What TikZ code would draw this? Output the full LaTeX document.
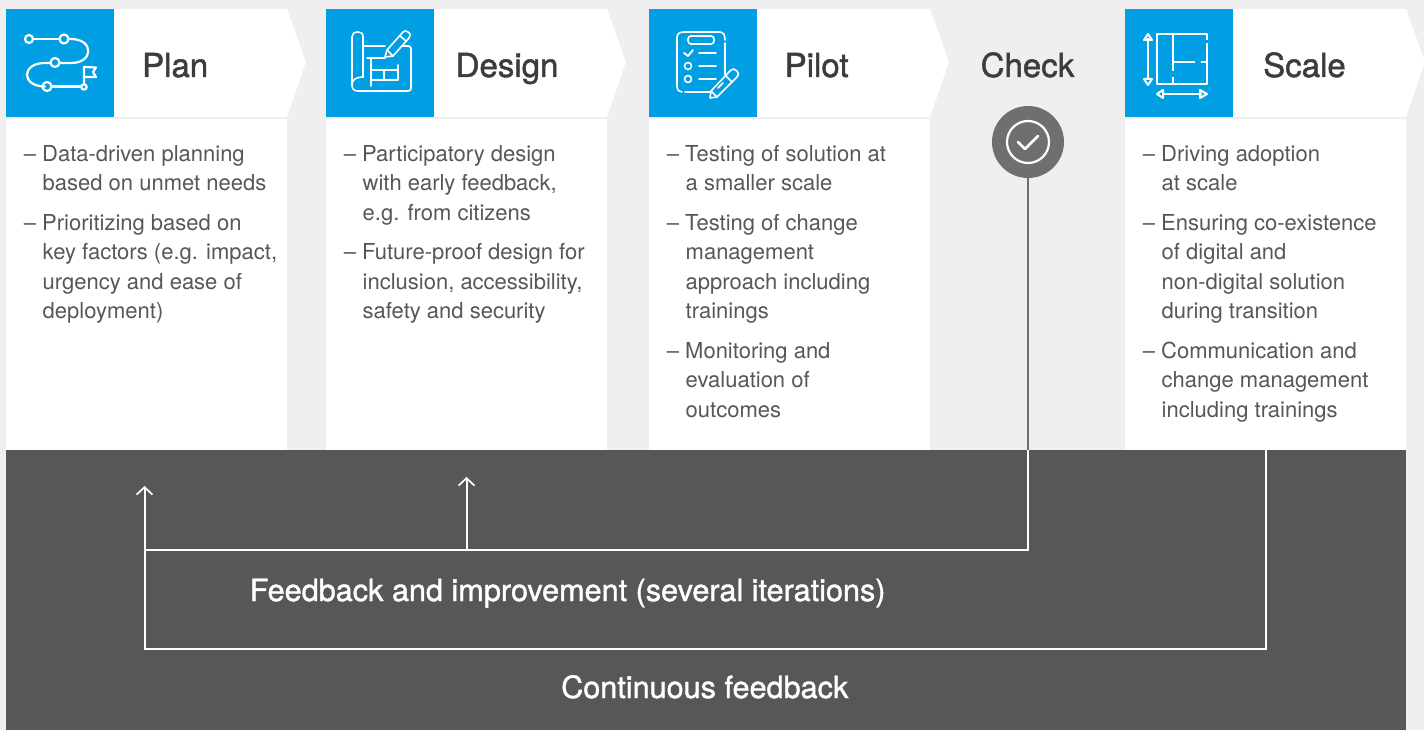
\documentclass[tikz,border=0pt]{standalone}
\usepackage{fontspec}
\setmainfont{TeX Gyre Heros}
\newfontfamily\medfont[FakeBold=1.3]{TeX Gyre Heros}
\usetikzlibrary{arrows.meta}
\definecolor{pagebg}{HTML}{EFEFEF}
\definecolor{panel}{HTML}{575755}
\definecolor{skyblue}{HTML}{009FE3}
\definecolor{titlegrey}{HTML}{3C3C3B}
\definecolor{bodygrey}{HTML}{575756}
\definecolor{checkgrey}{HTML}{6F6F6E}
\newcommand{\bodyitem}[1]{\llap{–\hspace{6.5pt}}\hspace{-0.5pt}#1}
\tikzset{
  x=1pt,y=-1pt,
  card/.style={fill=white,draw=none},
  headtitle/.style={font=\medfont\fontsize{33}{36}\selectfont,text=titlegrey,anchor=base west,inner sep=0pt},
  bodytext/.style={font=\fontsize{22}{29.5}\selectfont,text=bodygrey,align=left,anchor=north west,inner sep=0pt},
  paneltext/.style={font=\medfont\fontsize{30.6}{34}\selectfont,text=white,anchor=base west,inner sep=0pt},
  icon/.style={draw=white,line width=1.5pt,line cap=round,line join=round,fill=none},
  link/.style={draw=white,line width=2pt},
  barb/.style={-{Straight Barb[length=7.5pt,width=16pt,line width=1.7pt]}}
}
\newcommand{\column}[1]{%
  \fill[card] (#1,9) rectangle ++(281,108);
  \fill[card] (#1+281,9) -- (#1+300,62) -- (#1+281,117) -- cycle;
  \fill[skyblue] (#1,9) rectangle ++(108,108);
  \fill[card] (#1,119) rectangle ++(281,331);
}
\begin{document}
\begin{tikzpicture}
\useasboundingbox (0,0) rectangle (1424,730);
\fill[pagebg] (0,0) rectangle (1424,730);
\column{6}
\column{326}
\column{649}
\column{1125}
\fill[panel] (6,450) rectangle (1406,730);

% titles
\node[headtitle] (plan) at (142,77) {Plan};
\node[headtitle] (design) at (455.5,77) {Design};
\node[headtitle] (pilot) at (784.5,77) {Pilot};
\node[headtitle] (check) at (980.5,77) {Check};
\node[headtitle] (scale) at (1263,77) {Scale};

% body text
\node[bodytext] (b1) at (42.5,145) {\bodyitem{Data-driven planning}\\ based on unmet needs\\[10pt]\bodyitem{Prioritizing based on}\\ key factors (e.g. impact,\\ urgency and ease of\\ deployment)};
\node[bodytext] (b2) at (362.5,145) {\bodyitem{Participatory design}\\ with early feedback,\\ e.g. from citizens\\[10pt]\bodyitem{Future-proof design for}\\ inclusion, accessibility,\\ safety and security};
\node[bodytext] (b3) at (685.5,145) {\bodyitem{Testing of solution at}\\ a smaller scale\\[10pt]\bodyitem{Testing of change}\\ management\\ approach including\\ trainings\\[10pt]\bodyitem{Monitoring and}\\ evaluation of\\ outcomes};
\node[bodytext] (b4) at (1161.5,145) {\bodyitem{Driving adoption}\\ at scale\\[10pt]\bodyitem{Ensuring co-existence}\\ of digital and\\ non-digital solution\\ during transition\\[10pt]\bodyitem{Communication and}\\ change management\\ including trainings};

% panel text
\node[paneltext] (fb) at (249.5,601) {Feedback and improvement (several iterations)};
\node[paneltext] (cf) at (561,698) {Continuous feedback};

% check badge
\node[circle,fill=checkgrey,minimum size=72pt,inner sep=0pt] (badge) at (1028,142) {};
\draw[white,line width=2.2pt] (1028,142) circle (21);
\draw[white,line width=2.8pt,line cap=round,line join=round] (1018,142) -- (1025,149) -- (1038,136);

% connectors
\coordinate (jchk) at (1028,450);
\coordinate (jscale) at (1266,450);
\coordinate (fbcorner) at (1028,550);
\coordinate (scorner) at (1266,649);
\coordinate (lcorner) at (144.5,649);
\coordinate (ltip) at (144.5,486);
\coordinate (mfoot) at (466.5,550);
\coordinate (mtip) at (466.5,477);
\coordinate (lfoot) at (144.5,550);
\draw[checkgrey,line width=2.4pt] (badge.south) -- (jchk);
\draw[link] (jchk) -- (fbcorner) -- (lfoot);
\draw[link] (jscale) -- (scorner) -- (lcorner) -- (lfoot);
\draw[link,barb] (lfoot) -- (ltip);
\draw[link,barb] (mfoot) -- (mtip);

% plan icon
\begin{scope}[icon,line width=2.2pt]
\draw (33,39) -- (59,39);
\draw (69,39) -- (71,39) .. controls (94,39) and (94,63) .. (71,63) -- (60,63);
\draw (50,63) -- (45,63) .. controls (21,63) and (21,86.5) .. (45,86.5) -- (42,86.5);
\draw (52,86.5) -- (81,86.5);
\draw (29,39) circle (4);
\draw (64,39) circle (4.5);
\draw (55,62.5) circle (4.5);
\draw (47,86.5) circle (4.5);
\draw (84,87) circle (2.7);
\draw (84,84) -- (84,67) -- (96,67.5) -- (93,72) -- (96,77) -- (84,77);
\end{scope}

% design icon
\begin{scope}[icon,line width=1.6pt]
\draw (363,77) -- (363,37) .. controls (363,33) and (361,32) .. (358,32)
  .. controls (354,32) and (352,34) .. (352,37) -- (352,85) .. controls (352,89) and (354,91) .. (358,91)
  -- (408,91) .. controls (410,91) and (411,90) .. (411,88) -- (411,49) .. controls (411,47) and (410,46) .. (408,46) -- (402,46);
\draw (363,46) -- (385,46);
\draw (363,77) .. controls (357,77) and (352,79) .. (352,85);
\draw (367,58) -- (385,58);
\draw (371,58) -- (371,86);
\draw (398,65) -- (398,80) -- (372,80);
\draw (372,70) -- (398,70);
\draw (384,70) -- (384,80);
\draw (385,57) -- (387,50) -- (403,32) .. controls (405,30) and (406,31) .. (408,32) .. controls (411,34) and (411,36) .. (409,38) -- (393,56) -- (385,57);
\draw (387,50) -- (393,56);
\draw (400,36) -- (406,41);
\end{scope}

% pilot icon
\begin{scope}[icon,line width=1.6pt]
\draw (725,40) .. controls (725,34) and (723,32) .. (719,32) -- (684,32) .. controls (679,32) and (677,34) .. (677,38) -- (677,86) .. controls (677,90) and (679,92) .. (682,92);
\draw (685,92) -- (712,92);
\draw (725,43) -- (725,74);
\draw[rounded corners=3pt] (688,36) rectangle (714,44);
\draw[line width=1.9pt] (684,53) -- (688,56) -- (693,50);
\draw (699,53) -- (716,53);
\draw (688,66) circle (3.5);
\draw (699,66) -- (716,66);
\draw (688,79) circle (3.5);
\draw (699,79) -- (716,79);
\draw (710,98) -- (711,91) -- (730,71) .. controls (733,68) and (735,69) .. (737,71) .. controls (739,73) and (739,75) .. (737,77) -- (717,97) -- (710,98);
\draw (711,91) -- (717,97);
\draw (725,75) -- (732,82);
\draw (718,88) -- (723,83);
\end{scope}

% scale icon
\begin{scope}[icon,line width=2pt,line cap=butt]
\draw (1207,40) -- (1207,34) -- (1157,34) -- (1157,84) -- (1207,84) -- (1207,43);
\draw (1173,34) -- (1173,71);
\draw (1173,77) -- (1173,84);
\draw (1173,62) -- (1195,62);
\draw (1201,62) -- (1207,62);
\draw (1148,38) -- (1148,80);
\draw (1148,34) -- (1144,40) -- (1152,40) -- cycle;
\draw (1148,85) -- (1144,79) -- (1152,79) -- cycle;
\draw (1163,94) -- (1202,94);
\draw (1157,94) -- (1163,90) -- (1163,98) -- cycle;
\draw (1207,94) -- (1200,90) -- (1200,98) -- cycle;
\end{scope}
\end{tikzpicture}
\end{document}
